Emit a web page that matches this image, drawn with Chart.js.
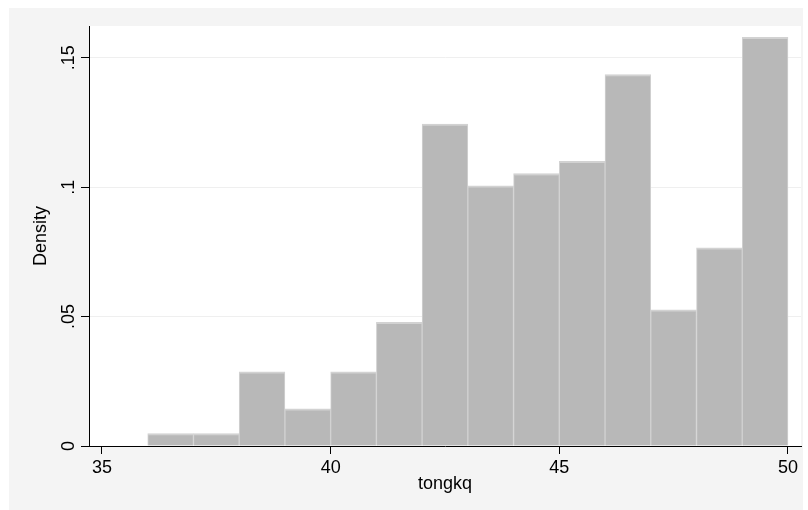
<!DOCTYPE html>
<html>
<head>
<meta charset="utf-8">
<script src="https://cdn.jsdelivr.net/npm/chart.js@4.4.1/dist/chart.umd.min.js"></script>
<style>
  html, body { margin: 0; padding: 0; background: #fff; }
</style>
</head>
<body>
<canvas id="hist" width="808" height="510"></canvas>
<script>
// histogram bins (centre of each bin, width 1)
const binCenters = [36.5, 37.5, 38.5, 39.5, 40.5, 41.5, 42.5, 43.5, 44.5, 45.5, 46.5, 47.5, 48.5, 49.5];
const density = [0.0048, 0.0048, 0.0287, 0.0144, 0.0287, 0.0478, 0.1244, 0.1005, 0.1053, 0.1100, 0.1435, 0.0526, 0.0766, 0.1579];
const xTicks = [35, 40, 45, 50];
const yTicks = [0, 0.05, 0.1, 0.15];
const yTickLabels = ['0', '.05', '.1', '.15'];

const FONT = '"Liberation Sans", Arial, Helvetica, sans-serif';

// grey outer panel + white plot region
const panelBg = {
    id: 'panelBg',
    beforeDraw(chart) {
        const { ctx, chartArea: a } = chart;
        ctx.save();
        ctx.fillStyle = '#f4f4f4';
        ctx.fillRect(9, 8, 794, 502);
        ctx.fillStyle = '#ffffff';
        ctx.fillRect(a.left, a.top, a.right - a.left, a.bottom - a.top);
        ctx.restore();
    }
};

// Stata-style vertical y tick labels
const yLabels = {
    id: 'yLabels',
    afterDraw(chart) {
        const { ctx } = chart;
        const yScale = chart.scales.y;
        ctx.save();
        ctx.font = '18px ' + FONT;
        ctx.fillStyle = '#000';
        ctx.textAlign = 'center';
        ctx.textBaseline = 'alphabetic';
        yTicks.forEach((v, i) => {
            const py = yScale.getPixelForValue(v);
            ctx.save();
            ctx.translate(chart.chartArea.left - 15, py);
            ctx.rotate(-Math.PI / 2);
            ctx.fillText(yTickLabels[i], 0, 0);
            ctx.restore();
        });
        ctx.restore();
    }
};

new Chart(document.getElementById('hist').getContext('2d'), {
    type: 'bar',
    data: {
        datasets: [{
            data: binCenters.map((x, i) => ({ x: x, y: density[i] })),
            backgroundColor: '#b8b8b8',
            borderColor: '#d2d2d2',
            borderWidth: { top: 2, left: 1, right: 1, bottom: 0 },
            borderSkipped: false,
            barPercentage: 1,
            categoryPercentage: 1,
            grouped: false
        }]
    },
    options: {
        responsive: false,
        animation: false,
        layout: { padding: { top: 26, right: 7, left: 0, bottom: 0 } },
        plugins: { legend: { display: false }, tooltip: { enabled: false } },
        scales: {
            x: {
                type: 'linear',
                min: 34.716,
                max: 50.285,
                offset: false,
                afterFit(scale) { scale.height = 64; },
                afterBuildTicks(scale) { scale.ticks = xTicks.map(v => ({ value: v })); },
                grid: { drawOnChartArea: false, offset: false, tickLength: 8, tickColor: '#000' },
                border: { color: '#000', width: 1 },
                ticks: {
                    padding: 3,
                    color: '#000',
                    font: { family: FONT, size: 18 },
                    callback: v => String(v)
                },
                title: {
                    display: true,
                    text: 'tongkq',
                    color: '#000',
                    font: { family: FONT, size: 18 },
                    padding: { top: 0, bottom: 15 }
                }
            },
            y: {
                min: 0,
                max: 0.1623,
                afterFit(scale) { scale.width = 89; },
                afterBuildTicks(scale) { scale.ticks = yTicks.map(v => ({ value: v })); },
                grid: { color: '#efefef', tickLength: 8, tickColor: '#000' },
                border: { color: '#000', width: 1 },
                ticks: { display: false },
                title: {
                    display: true,
                    text: 'Density',
                    color: '#000',
                    font: { family: FONT, size: 18 },
                    padding: { top: 30, bottom: 0 }
                }
            }
        }
    },
    plugins: [panelBg, yLabels]
});
</script>
</body>
</html>
